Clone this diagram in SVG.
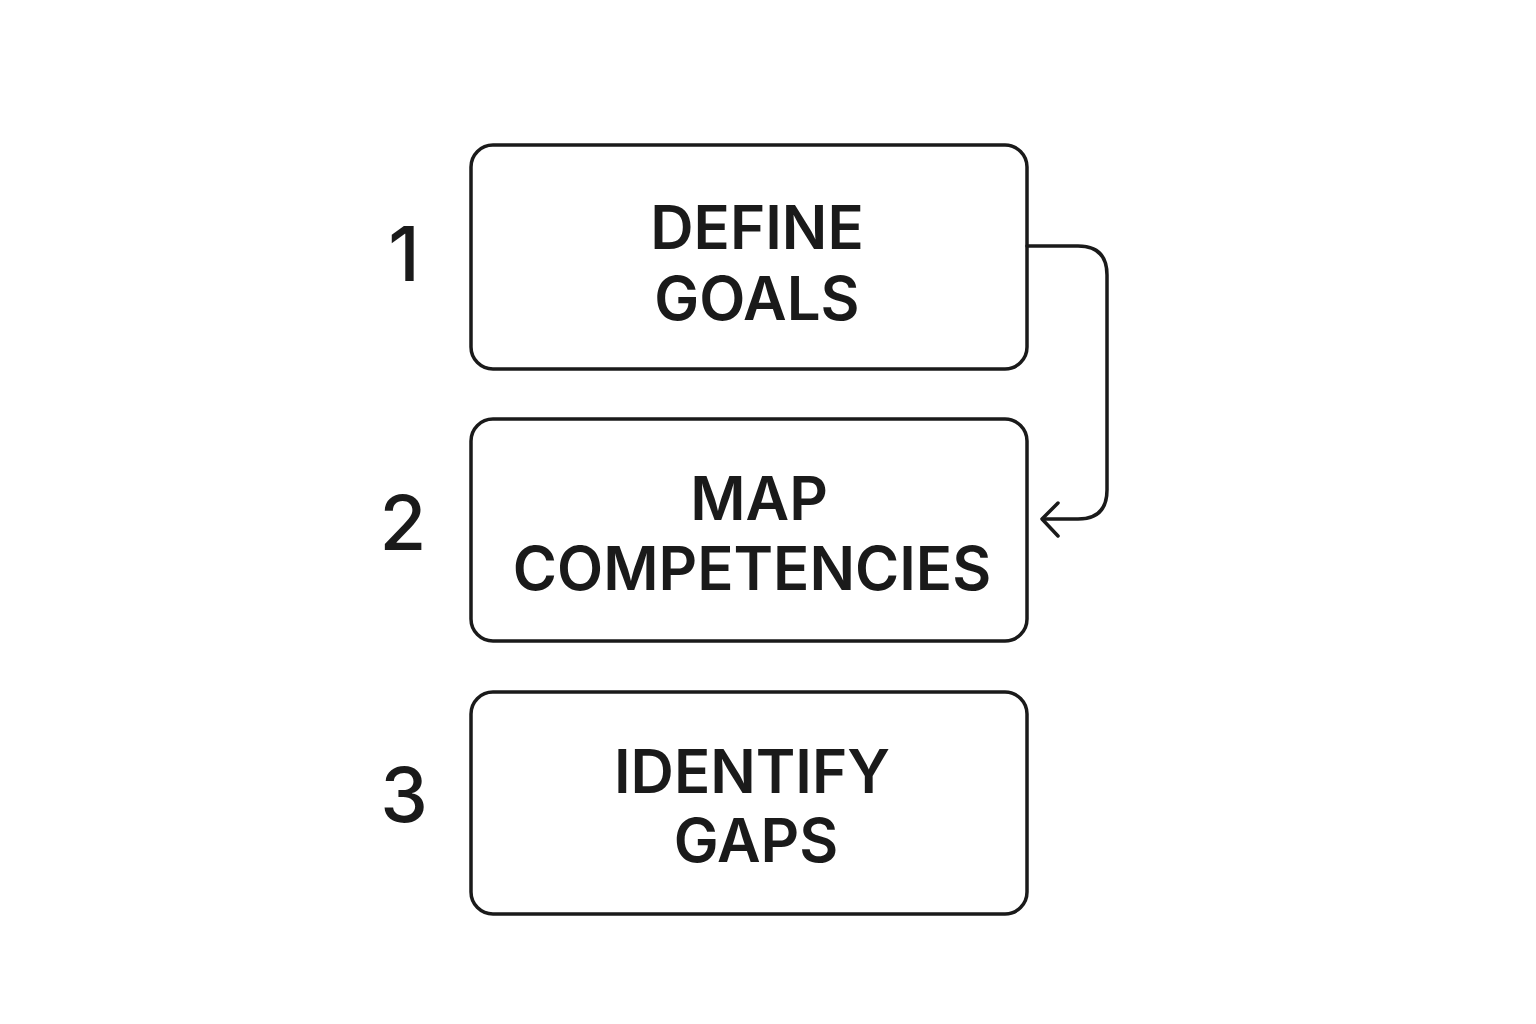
<svg xmlns="http://www.w3.org/2000/svg" width="1536" height="1024" viewBox="0 0 1536 1024">
<style>
.box{fill:#fff;stroke:#1a1a1a;stroke-width:3.5}
.t{font-family:Inter,"Liberation Sans",sans-serif;font-weight:600;font-size:60px;fill:#1a1a1a;text-anchor:middle}
.n{font-family:Inter,"Liberation Sans",sans-serif;font-weight:500;font-size:76px;fill:#1a1a1a;text-anchor:middle}
.c{fill:none;stroke:#1a1a1a;stroke-width:3.5;stroke-linecap:round;stroke-linejoin:round}
</style>
<rect width="1536" height="1024" fill="#fff"/>
<g id="node1"><rect class="box" x="471" y="145" width="556" height="224" rx="22"/>
<text class="t" x="757" y="249">DEFINE</text><text class="t" x="757" y="320">GOALS</text>
<text class="n" x="404" y="281">1</text></g>
<g id="node2"><rect class="box" x="471" y="419" width="556" height="222" rx="22"/>
<text class="t" x="759" y="520">MAP</text><text class="t" x="752" y="590">COMPETENCIES</text>
<text class="n" x="403" y="550">2</text></g>
<g id="node3"><rect class="box" x="471" y="692" width="556" height="222" rx="22"/>
<text class="t" x="752" y="793">IDENTIFY</text><text class="t" x="756" y="862">GAPS</text>
<text class="n" x="404" y="822">3</text></g>
<g id="connectors">
<path class="c" d="M1027 246 H1078 Q1107 246 1107 275 V490 Q1107 519 1078 519 H1043"/>
<path class="c" d="M1058 503 L1042 519 L1058 536"/>
</g>
</svg>
